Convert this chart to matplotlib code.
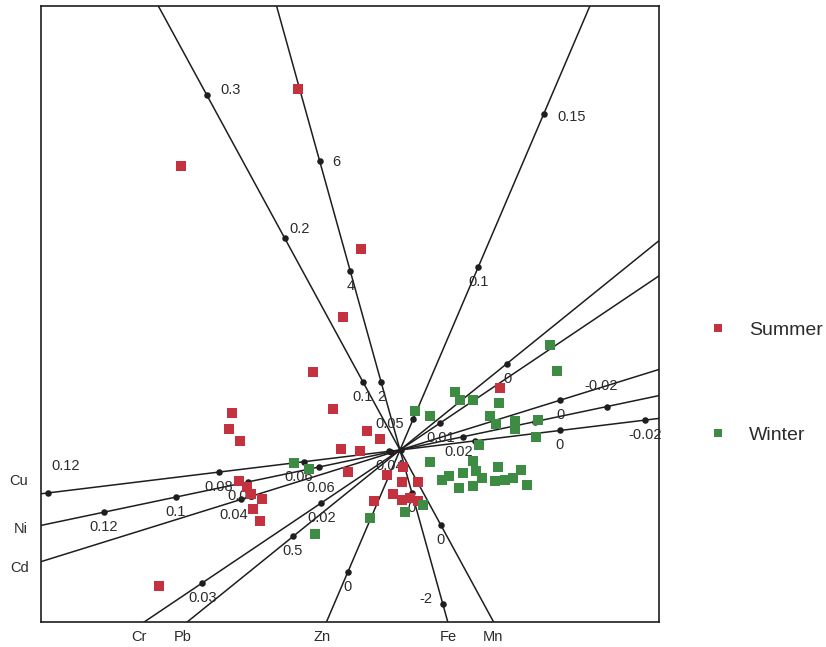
import numpy as np
import matplotlib
matplotlib.use("Agg")
import matplotlib.pyplot as plt
from matplotlib.lines import Line2D

plt.rcParams['font.family'] = ['Liberation Sans', 'DejaVu Sans']

# ---------------- data ----------------
variables = ['Cu', 'Ni', 'Cd', 'Cr', 'Pb', 'Zn', 'Fe', 'Mn']
# biplot loadings (first, second component) and variable means
loading_1 = [-0.02310, -0.02664, -0.011434, -0.005788, -0.1413, 0.011838, -0.4658, -0.029302]
loading_2 = [-0.002817, -0.005595, -0.003556, -0.003891, -0.1142, 0.027682, 1.6756, 0.053834]
means = [0.0375, 0.0376, 0.0201, 0.0134, 0.25, 0.040, 0.776, 0.0523]

tick_values = {
    'Cu': [0.12, 0.08, 0.06, 0.04, 0.02, 0, -0.02],
    'Ni': [0.12, 0.1, 0.08, 0.06, 0.04, 0.02, 0, -0.02],
    'Cd': [0.04, 0.02, 0],
    'Cr': [0.03, 0.02, 0.01],
    'Pb': [0.5, 0],
    'Zn': [0.15, 0.1, 0.05, 0],
    'Fe': [6, 4, 2, 0, -2],
    'Mn': [0.3, 0.2, 0.1, 0],
}
unlabeled_ticks = {('Ni', 0.04), ('Ni', 0.02), ('Ni', 0), ('Cd', 0.02)}

summer_pc1 = [-1.02, -2.19, -0.39, -0.57, -0.87, -1.68, -1.71, -1.60, -0.67, -0.33,
              -0.20, -0.59, -0.40, -0.52, -0.13, -1.61, -1.53, -1.49, -1.38, -1.47,
              -1.40, -2.41, -0.26, 0.03, 0.02, 0.18, -0.07, 0.02, 0.10, 0.18, 1.00]
summer_pc2 = [3.61, 2.84, 2.01, 1.33, 0.78, 0.37, 0.21, 0.09, 0.41, 0.19,
              0.11, 0.01, -0.01, -0.22, -0.25, -0.31, -0.37, -0.44, -0.49, -0.59,
              -0.71, -1.36, -0.51, -0.17, -0.32, -0.32, -0.44, -0.50, -0.48, -0.51, 0.62]

winter_pc1 = [-1.06, -0.91, -0.85, -0.30, 0.05, 0.23, 0.15, 0.30, 0.55, 0.60,
              0.73, 0.99, 0.90, 0.96, 1.15, 1.15, 1.38, 1.36, 1.50, 1.57,
              0.79, 0.30, 0.73, 0.98, 1.21, 0.42, 0.49, 0.63, 0.76, 0.82,
              0.95, 1.05, 1.13, 1.27, 0.59, 0.73]
winter_pc2 = [-0.13, -0.19, -0.84, -0.68, -0.62, -0.55, 0.39, 0.34, 0.58, 0.50,
              0.50, 0.47, 0.34, 0.26, 0.29, 0.21, 0.30, 0.13, 1.05, 0.79,
              0.05, -0.12, -0.11, -0.17, -0.20, -0.30, -0.26, -0.23, -0.21, -0.28,
              -0.31, -0.30, -0.28, -0.35, -0.38, -0.36]

seasons = ['Summer', 'Winter']

# ---------------- style ----------------
RED = '#c3323e'
GREEN = '#3e8c44'
LINE = '#1e1e1e'
TXT = '#2b2b2b'
W, H = 826, 647
XLIM = (-3.59, 2.59)
YLIM = (-1.72, 4.44)

# label offsets in pixels (dx right, dy down) for tick labels; default below the dot
default_off = (0, 15)
label_off = {
    ('Cu', 0.12): (18, -27), ('Cu', 0.06): (-5, 15), ('Cu', 0.02): (-16, 11),
    ('Ni', 0.08): (-6, 14), ('Ni', 0.06): (1, 21), ('Ni', -0.02): (-6, -21),
    ('Cd', 0.04): (-8, 16),
    ('Zn', 0.15): (28, 3), ('Zn', 0.05): (-23, 5),
    ('Fe', 6): (17, 1), ('Fe', -2): (-17, -5),
    ('Mn', 0.3): (24, -5), ('Mn', 0.2): (15, -9),
}
name_off = {'Cu': (-22, -13), 'Ni': (-20, 4), 'Cd': (-21, 6),
            'Cr': (-5, 15), 'Pb': (-4, 15), 'Zn': (-4, 15), 'Fe': (0, 15), 'Mn': (-1, 15)}

fig = plt.figure(figsize=(W / 100, H / 100), dpi=100)
ax = fig.add_axes([41 / W, 1 - 622 / H, 618 / W, 616 / H])
ax.set_xlim(*XLIM)
ax.set_ylim(*YLIM)
ax.set_xticks([])
ax.set_yticks([])
for s in ax.spines.values():
    s.set_linewidth(1.2)
    s.set_color(LINE)

for i, var in enumerate(variables):
    b = np.array([loading_1[i], loading_2[i]])
    d = b / (b @ b)  # displacement per unit of the variable
    ax.axline((0, 0), tuple(d), color=LINE, lw=1.1, zorder=2)
    vals = np.array(tick_values[var], dtype=float)
    pts = np.outer(vals - means[i], d)
    ax.scatter(pts[:, 0], pts[:, 1], s=22, color=LINE, zorder=3, linewidths=0)
    for v, p in zip(tick_values[var], pts):
        if (var, v) in unlabeled_ticks:
            continue
        dx, dy = label_off.get((var, v), default_off)
        ax.annotate(f"{v:g}", xy=p, xytext=(dx, -dy), textcoords='offset pixels',
                    ha='center', va='center', fontsize=10.5, color=TXT, zorder=4)
    # variable name at the left / bottom end of its axis
    u = d / np.linalg.norm(d)
    cands = []
    for sign in (1, -1):
        uu = sign * u
        ts = []
        if uu[0] != 0:
            ts.append(((XLIM[0] if uu[0] < 0 else XLIM[1]) / uu[0]))
        if uu[1] != 0:
            ts.append(((YLIM[0] if uu[1] < 0 else YLIM[1]) / uu[1]))
        t = min(t for t in ts if t > 0)
        cands.append(uu * t)
    end = min(cands, key=lambda q: q[0] + q[1])
    dx, dy = name_off[var]
    ax.annotate(var, xy=end, xytext=(dx, -dy), textcoords='offset pixels',
                ha='center', va='center', fontsize=10.5, color=TXT,
                annotation_clip=False)

ax.scatter(summer_pc1, summer_pc2, marker='s', s=44, color=RED, linewidths=0, zorder=5)
ax.scatter(winter_pc1, winter_pc2, marker='s', s=44, color=GREEN, linewidths=0, zorder=5)

handles = [Line2D([], [], marker='s', ls='none', color=c, markersize=6, markeredgewidth=0)
           for c in (RED, GREEN)]
fig.legend(handles, seasons, loc='upper left', bbox_to_anchor=(708 / W, 1 - 321 / H),
           frameon=False, fontsize=14, handlelength=1.0, handletextpad=1.1,
           labelspacing=4.5, borderpad=0, borderaxespad=0, labelcolor=TXT)

fig.savefig('out.png', dpi=100, facecolor='white')
